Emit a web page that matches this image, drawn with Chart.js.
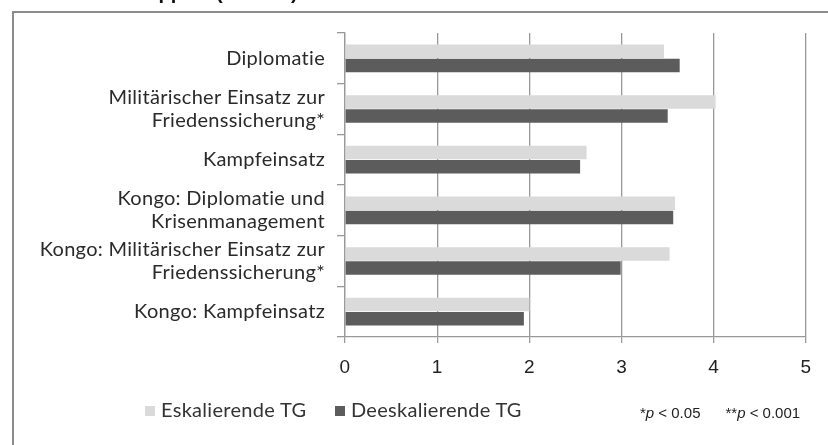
<!DOCTYPE html>
<html>
<head>
<meta charset="utf-8">
<script src="https://cdn.jsdelivr.net/npm/chart.js@4.4.1/dist/chart.umd.min.js"></script>
<style>
  html, body { margin: 0; padding: 0; background: #fff; }
  #wrap { position: relative; width: 828px; height: 445px; overflow: hidden; background: #fff; }
  #frame { position: absolute; left: 12px; top: 11px; width: 830px; height: 450px; border-top: 2px solid #8c8c8c; border-left: 2px solid #8c8c8c; box-sizing: border-box; }
  canvas { position: absolute; left: 0; top: 0; }
  .leg { position: absolute; top: 398px; font: 20px Lato, sans-serif; color: #333; white-space: nowrap; line-height: 22px; letter-spacing: 0.3px; }
  .sw { display: inline-block; width: 10px; height: 10px; margin-right: 6px; vertical-align: 1px; }
  #foot { position: absolute; left: 640px; top: 404px; font: 15px "Liberation Sans", Arial, sans-serif; color: #222; white-space: nowrap; }
</style>
</head>
<body>
<div id="wrap">
  <div id="frame"></div>
  <canvas id="c" width="828" height="445"></canvas>
  <div class="leg" style="left:145px"><span class="sw" style="background:#dadada"></span>Eskalierende TG</div>
  <div class="leg" style="left:335px"><span class="sw" style="background:#5c5c5c"></span>Deeskalierende TG</div>
  <div id="foot">*<i>p</i> &lt; 0.05&nbsp;&nbsp;&nbsp;&nbsp;&nbsp;&nbsp;**<i>p</i> &lt; 0.001</div>
</div>
<script>
const titleParts = ["Gruppe", "(n = 120)"];
const categories = [
  "Diplomatie",
  ["Militärischer Einsatz zur", "Friedenssicherung*"],
  "Kampfeinsatz",
  ["Kongo: Diplomatie und", "Krisenmanagement"],
  ["Kongo: Militärischer Einsatz zur", "Friedenssicherung*"],
  "Kongo: Kampfeinsatz"
];
const seriesNames = ["Eskalierende TG", "Deeskalierende TG"];
const eskalierend = [3.46, 4.02, 2.62, 3.58, 3.52, 2.00];
const deeskalierend = [3.63, 3.50, 2.55, 3.56, 2.99, 1.94];
const xTicks = [0, 1, 2, 3, 4, 5];

const spacingPlugin = {
  id: 'spacing',
  beforeDraw(chart) { chart.ctx.letterSpacing = '0.3px'; },
  afterDraw(chart) {
    const ctx = chart.ctx;
    ctx.save();
    ctx.letterSpacing = '0px';
    ctx.font = 'bold 20px "Liberation Sans", Arial, sans-serif';
    ctx.fillStyle = '#111';
    ctx.textBaseline = 'alphabetic';
    ctx.textAlign = 'left';
    ctx.fillText(titleParts[0], 123, -1);
    ctx.fillText(titleParts[1], 216, -1);
    ctx.restore();
  }
};

new Chart(document.getElementById('c'), {
  type: 'bar',
  data: {
    labels: categories,
    datasets: [
      { label: seriesNames[0], data: eskalierend, backgroundColor: '#dadada', borderWidth: 0, categoryPercentage: 0.56, barPercentage: 0.95 },
      { label: seriesNames[1], data: deeskalierend, backgroundColor: '#5c5c5c', borderWidth: 0, categoryPercentage: 0.56, barPercentage: 0.95 }
    ]
  },
  plugins: [spacingPlugin],
  options: {
    indexAxis: 'y',
    responsive: false,
    animation: false,
    layout: { padding: { left: 0, right: 22, top: 33, bottom: 0 } },
    plugins: { legend: { display: false }, tooltip: { enabled: false } },
    scales: {
      x: {
        min: 0, max: 5,
        afterFit: (s) => { s.height = 108; },
        afterBuildTicks: (s) => { s.ticks = xTicks.map(v => ({ value: v })); },
        grid: { color: '#999', lineWidth: 1.3, drawTicks: true, tickLength: 6, tickColor: '#999' },
        border: { display: true, color: '#999', width: 1.3 },
        ticks: { color: '#222', padding: 13, font: { family: '"Liberation Sans", Arial, sans-serif', size: 19 } }
      },
      y: {
        afterFit: (s) => { s.width = 345; },
        grid: { offset: true, drawOnChartArea: false, drawTicks: true, tickLength: 8, color: '#999', tickColor: '#999', lineWidth: 1.3 },
        border: { display: true, color: '#999', width: 1.3 },
        ticks: { color: '#2a2a2a', padding: 12, font: { family: 'Lato, sans-serif', size: 20, lineHeight: 1.17 }, crossAlign: 'near' }
      }
    }
  }
});
</script>
</body>
</html>
